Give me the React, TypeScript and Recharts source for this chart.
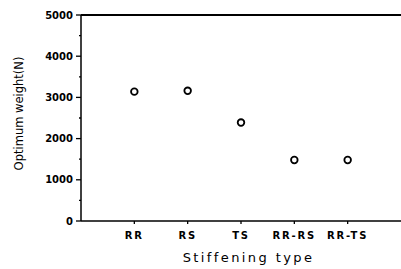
import React from "react";
import { ScatterChart, Scatter, XAxis, YAxis, ReferenceLine, Label } from "recharts";

const categories = ["RR", "RS", "TS", "RR-RS", "RR-TS"];
const positions = [1, 2, 3, 4, 5];
const weights = [3140, 3160, 2390, 1480, 1480];
const yTicks = [0, 500, 1000, 1500, 2000, 2500, 3000, 3500, 4000, 4500, 5000];

const data = positions.map((p, i) => ({ x: p, y: weights[i], name: categories[i] }));

const FONT = "'DejaVu Sans', sans-serif";

const YTick = (props: any) => {
  const { x, y, payload } = props;
  const major = payload.value % 1000 === 0;
  return (
    <g>
      <line x1={major ? 76 : 79} x2={81} y1={y} y2={y} stroke="#000" strokeWidth={1.3} />
      {major && (
        <text x={x} y={y} dy="0.35em" textAnchor="end" fontSize={10} fontWeight="bold" fontFamily={FONT} fill="#000">
          {payload.value}
        </text>
      )}
    </g>
  );
};

const XTick = (props: any) => {
  const { x, y, payload } = props;
  const idx = positions.indexOf(payload.value);
  return (
    <text x={x} y={y} dy="0.71em" textAnchor="middle" fontSize={10} fontWeight="bold" fontFamily={FONT} letterSpacing={1.8} fill="#000">
      {idx >= 0 ? categories[idx] : ""}
    </text>
  );
};

const Ring = (props: any) => {
  const { cx, cy } = props;
  return <circle cx={cx} cy={cy} r={3.3} fill="#fff" stroke="#000" strokeWidth={1.8} />;
};

export default function App() {
  return (
    <div style={{ position: "absolute", left: 0, top: 0, background: "#fff" }}>
      <ScatterChart width={401} height={269} margin={{ top: 15, right: 0, bottom: 0, left: 0 }}>
        <XAxis
          type="number"
          dataKey="x"
          domain={[0, 6]}
          ticks={positions}
          interval={0}
          tick={<XTick />}
          tickSize={3}
          tickMargin={8}
          height={48}
          axisLine={{ stroke: "#000", strokeWidth: 1.5 }}
          tickLine={{ stroke: "#000", strokeWidth: 1.3 }}
        >
          <Label
            value="Stiffening type"
            position="insideBottom"
            offset={7}
            dx={7.5}
            style={{ fontSize: 13, fontFamily: FONT, letterSpacing: 2.4, fill: "#000" }}
          />
        </XAxis>
        <YAxis
          type="number"
          dataKey="y"
          domain={[0, 5000]}
          ticks={yTicks}
          interval={0}
          width={81}
          tick={<YTick />}
          tickLine={false}
          tickSize={5}
          tickMargin={3}
          axisLine={{ stroke: "#000", strokeWidth: 1.5 }}
        >
          <Label
            value="Optimum weight(N)"
            angle={-90}
            position="insideLeft"
            offset={19}
            dy={-4.5}
            style={{ fontSize: 11.5, fontFamily: FONT, textAnchor: "middle", fill: "#000" }}
          />
        </YAxis>
        <ReferenceLine y={5000} stroke="#000" strokeWidth={1.8} ifOverflow="visible" />
        <Scatter data={data} shape={<Ring />} isAnimationActive={false} />
      </ScatterChart>
    </div>
  );
}
